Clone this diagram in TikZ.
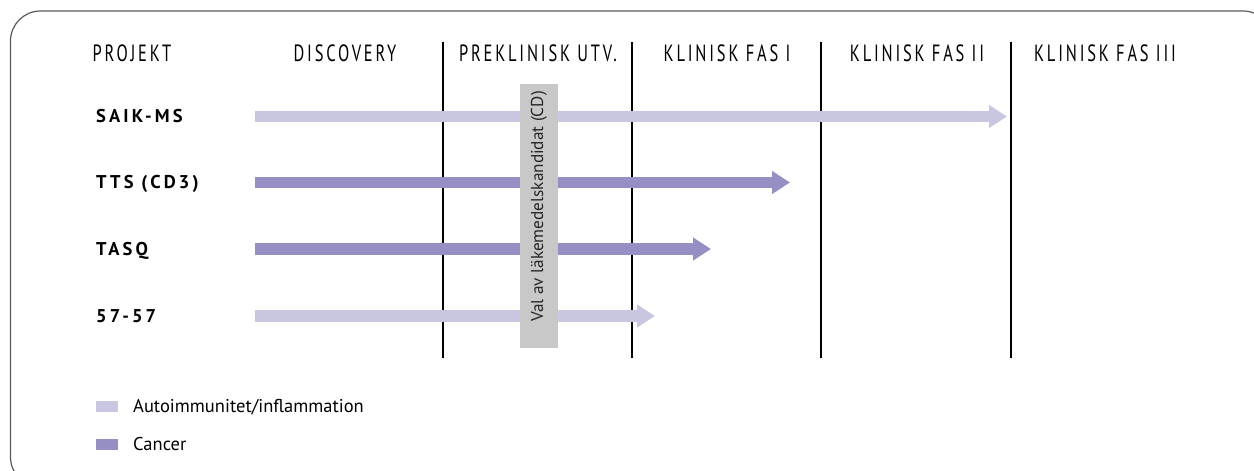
\documentclass[tikz,border=0pt]{standalone}
\usepackage{fontspec}
\setmainfont{PT Sans}
\newfontfamily\hdrfont[FakeStretch=0.7,LetterSpace=12]{PT Sans}
\newfontfamily\rowfont[LetterSpace=17]{PT Sans}
\usetikzlibrary{arrows.meta}
\definecolor{lightlav}{HTML}{C9C6E1}
\definecolor{darklav}{HTML}{958FC3}
\definecolor{cdgray}{HTML}{C8C8C8}
\definecolor{framegray}{HTML}{5A5A5A}
\begin{document}
\begin{tikzpicture}[x=1pt,y=-1pt,
  hdr/.style={font=\hdrfont\fontsize{23.5}{26}\selectfont, anchor=base, inner sep=0},
  rowlbl/.style={font=\rowfont\bfseries\fontsize{18.5}{21}\selectfont, anchor=base west, inner sep=0},
  phase/.style={line width=1.5pt, black},
  bar/.style={line width=11.5pt, -{Triangle[length=18pt,width=22pt]}},
  legbox/.style={minimum width=22pt, minimum height=11pt, inner sep=0, anchor=west},
  legtxt/.style={font=\fontsize{18.5}{21}\selectfont, anchor=base west, inner sep=0}]
\useasboundingbox (0,0) rectangle (1254,471);
\draw[framegray, line width=1.2pt, rounded corners=30pt] (10.5,11) rectangle (1273,487);
% headers
\node[hdr] (hp) at (132,61.7) {PROJEKT};
\node[hdr] (hd) at (345,61.7) {DISCOVERY};
\node[hdr] (hpk) at (538,61.7) {PREKLINISK UTV.};
\node[hdr] (hk1) at (727,61.7) {KLINISK FAS I};
\node[hdr] (hk2) at (917,61.7) {KLINISK FAS II};
\node[hdr] (hk3) at (1105,61.7) {KLINISK FAS III};
% phase separators
\foreach \i/\x in {1/443,2/632,3/821,4/1011}{
  \coordinate (v\i t) at (\x,42);
  \coordinate (v\i b) at (\x,358);
  \draw[phase] (v\i t) -- (v\i b);
}
% row labels
\node[rowlbl] (r1) at (96,122.7) {SAIK-MS};
\node[rowlbl] (r2) at (96,188.7) {TTS (CD3)};
\node[rowlbl] (r3) at (96,255.2) {TASQ};
\node[rowlbl] (r4) at (96,322) {57-57};
% arrows
\coordinate (s1) at (255,116.5); \coordinate (e1) at (1007,116.5);
\coordinate (s2) at (255,182.5); \coordinate (e2) at (790,182.5);
\coordinate (s3) at (255,249);   \coordinate (e3) at (711,249);
\coordinate (s4) at (255,316);   \coordinate (e4) at (655,316);
\draw[bar, lightlav] (s1) -- (e1);
\draw[bar, darklav] (s2) -- (e2);
\draw[bar, darklav] (s3) -- (e3);
\draw[bar, lightlav] (s4) -- (e4);
% candidate selection box
\node[fill=cdgray, minimum width=38pt, minimum height=264pt, inner sep=0] (cd) at (539,216) {};
\node[rotate=90, font=\fontsize{17.2}{20}\selectfont, text=black!85, inner sep=0] (cdt) at (539,206.5) {Val av läkemedelskandidat (CD)};
% legend
\node[legbox, fill=lightlav] (lg1) at (96,406.5) {};
\node[legtxt] (lt1) at (133,412.5) {Autoimmunitet/inflammation};
\node[legbox, fill=darklav] (lg2) at (96,444.5) {};
\node[legtxt] (lt2) at (133,450) {Cancer};
\end{tikzpicture}
\end{document}
